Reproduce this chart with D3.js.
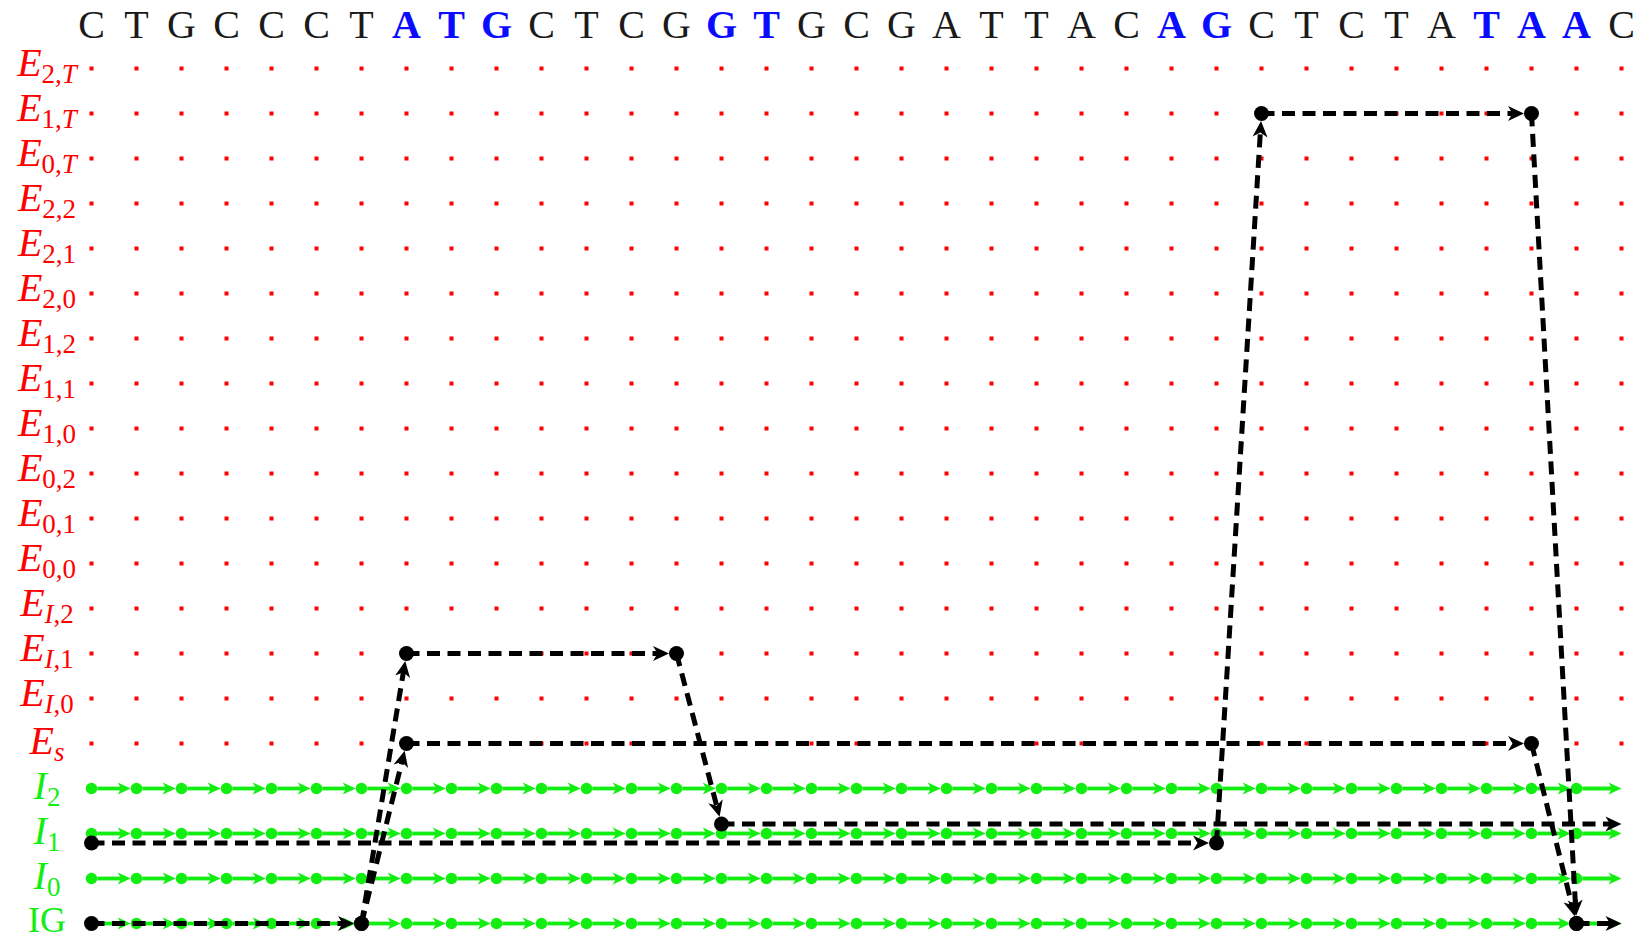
<!DOCTYPE html>
<html><head><meta charset="utf-8">
<script src="https://cdn.jsdelivr.net/npm/d3@7"></script>
<style>html,body{margin:0;padding:0;background:#fff;} svg{display:block;}</style>
</head><body>
<svg id="chart" width="1649" height="941"></svg>
<script>
// ---- data ----
const sequence = ["C","T","G","C","C","C","T","A","T","G","C","T","C","G","G","T","G","C","G","A","T","T","A","C","A","G","C","T","C","T","A","T","A","A","C"];
const signalPositions = [7,8,9,14,15,24,25,31,32,33];
const stateKeys = ["E2T","E1T","E0T","E22","E21","E20","E12","E11","E10","E02","E01","E00","EI2","EI1","EI0","Es","I2","I1","I0","IG"];
const stateMain = ["E","E","E","E","E","E","E","E","E","E","E","E","E","E","E","E","I","I","I","IG"];
const stateSub  = ["2,T","1,T","0,T","2,2","2,1","2,0","1,2","1,1","1,0","0,2","0,1","0,0","I,2","I,1","I,0","s","2","1","0",""];
const chainStates = ["I2","I1","I0","IG"];
const pathA = [[0,"IG"],[6,"IG"],[7,"EI1"],[13,"EI1"],[14,"I1"],[34,"I1"]];
const pathB = [[6,"IG"],[7,"Es"],[32,"Es"],[33,"IG"],[34,"IG"]];
const pathC = [[0,"I1"],[25,"I1"],[26,"E1T"],[32,"E1T"],[33,"IG"]];
const paths = [pathA, pathB, pathC];
const pathLanes = [-1, 0, 1];

// ---- drawing ----
const svg = d3.select("#chart");
const W = 1649, H = 941;
svg.append("rect").attr("width", W).attr("height", H).attr("fill", "#fff");

const nCols = sequence.length;
const x = d3.scaleLinear().domain([0, nCols - 1]).range([91.5, 1621.5]);
const y = d3.scalePoint().domain(stateKeys).range([68.5, 923.5]);

const RED = "#ff0000", GREEN = "#12ee12", BLUE = "#0b0bff";
const serif = "'Liberation Serif','Times New Roman',serif";

// markers
const defs = svg.append("defs");
defs.append("marker").attr("id", "ahBlack").attr("markerUnits", "userSpaceOnUse")
  .attr("viewBox", "-20 -20 40 40").attr("markerWidth", 40).attr("markerHeight", 40)
  .attr("refX", 0).attr("refY", 0).attr("orient", "auto")
  .append("path").attr("d", "M8,0 L-8,-7.5 L-3.5,0 L-8,7.5 Z").attr("fill", "#000");
defs.append("marker").attr("id", "ahGreen").attr("markerUnits", "userSpaceOnUse")
  .attr("viewBox", "-20 -20 40 40").attr("markerWidth", 40).attr("markerHeight", 40)
  .attr("refX", 0).attr("refY", 0).attr("orient", "auto")
  .append("path").attr("d", "M5,0 L-8,-6 L-4.5,0 L-8,6 Z").attr("fill", GREEN);

// sequence letters
const signalSet = new Set(signalPositions);
svg.append("g").selectAll("text").data(sequence).join("text")
  .attr("x", (d, i) => x(i)).attr("y", 38)
  .attr("text-anchor", "middle")
  .attr("font-family", serif).attr("font-size", 40)
  .attr("font-weight", (d, i) => signalSet.has(i) ? "bold" : "normal")
  .attr("fill", (d, i) => signalSet.has(i) ? BLUE : "#1a1a1a")
  .text(d => d);

// row labels
const labG = svg.append("g");
stateKeys.forEach((k, i) => {
  const isIntron = chainStates.includes(k);
  const col = isIntron ? GREEN : RED;
  const sub = stateSub[i];
  let base = sub === "" ? 8.5 : (sub.includes(",") ? 7.5 : 10.5);
  const t = labG.append("text")
    .attr("x", 47).attr("y", y(k) + base)
    .attr("text-anchor", "middle")
    .attr("font-family", serif).attr("fill", col);
  t.append("tspan").attr("font-size", sub === "" ? 36 : 40)
    .attr("font-style", stateMain[i] === "IG" ? "normal" : "italic")
    .text(stateMain[i]);
  if (sub !== "") {
    sub.split("").forEach((ch, j) => {
      const s = t.append("tspan").attr("font-size", 27)
        .attr("font-style", /[A-Za-z]/.test(ch) ? "italic" : "normal")
        .text(ch);
      if (j === 0) s.attr("dy", 6.5);
    });
  }
});

// red exon grid dots
const exonStates = stateKeys.filter(k => !chainStates.includes(k));
const dotG = svg.append("g");
exonStates.forEach(k => {
  dotG.selectAll(null).data(d3.range(nCols)).join("rect")
    .attr("x", c => x(c) - 2).attr("y", y(k) - 2)
    .attr("width", 4).attr("height", 4).attr("fill", RED);
});

// green chains
const nodeR = 5.8;
const chainG = svg.append("g");
chainStates.forEach(k => {
  const yy = y(k);
  for (let c = 0; c < nCols - 1; c++) {
    const x0 = x(c) + nodeR;
    const hasNode = c + 1 < nCols - 1;
    const tip = hasNode ? x(c + 1) - nodeR : x(c + 1);
    chainG.append("line")
      .attr("x1", x0).attr("y1", yy).attr("x2", tip - 5).attr("y2", yy)
      .attr("stroke", GREEN).attr("stroke-width", 3.8)
      .attr("marker-end", "url(#ahGreen)");
  }
  chainG.selectAll(null).data(d3.range(nCols - 1)).join("circle")
    .attr("cx", c => x(c)).attr("cy", yy).attr("r", nodeR).attr("fill", GREEN);
});

// black state paths
const dotR = 7.5;
const laneShift = 9.5;
const laneRows = ["I2", "I1", "I0"];
const pg = svg.append("g");
const pos = (p, lane) => [x(p[0]), y(p[1]) + (laneRows.includes(p[1]) ? lane * laneShift : 0)];
paths.forEach((path, pi) => {
  const lane = pathLanes[pi];
  for (let s = 0; s < path.length - 1; s++) {
    const [ax, ay] = pos(path[s], lane);
    const [bx, by] = pos(path[s + 1], lane);
    const len = Math.hypot(bx - ax, by - ay);
    const ux = (bx - ax) / len, uy = (by - ay) / len;
    const endDot = path[s + 1][0] < nCols - 1;
    const tipBack = endDot ? dotR : 0;
    const tx = bx - ux * tipBack, ty = by - uy * tipBack;
    pg.append("line")
      .attr("x1", ax).attr("y1", ay)
      .attr("x2", tx - ux * 8).attr("y2", ty - uy * 8)
      .attr("stroke", "#000").attr("stroke-width", 5)
      .attr("stroke-dasharray", "13,7.5")
      .attr("marker-end", "url(#ahBlack)");
  }
});
paths.forEach((path, pi) => {
  const lane = pathLanes[pi];
  path.filter(p => p[0] < nCols - 1).forEach(p => {
    const [px, py] = pos(p, lane);
    pg.append("circle").attr("cx", px).attr("cy", py).attr("r", dotR).attr("fill", "#000");
  });
});
</script>
</body></html>
